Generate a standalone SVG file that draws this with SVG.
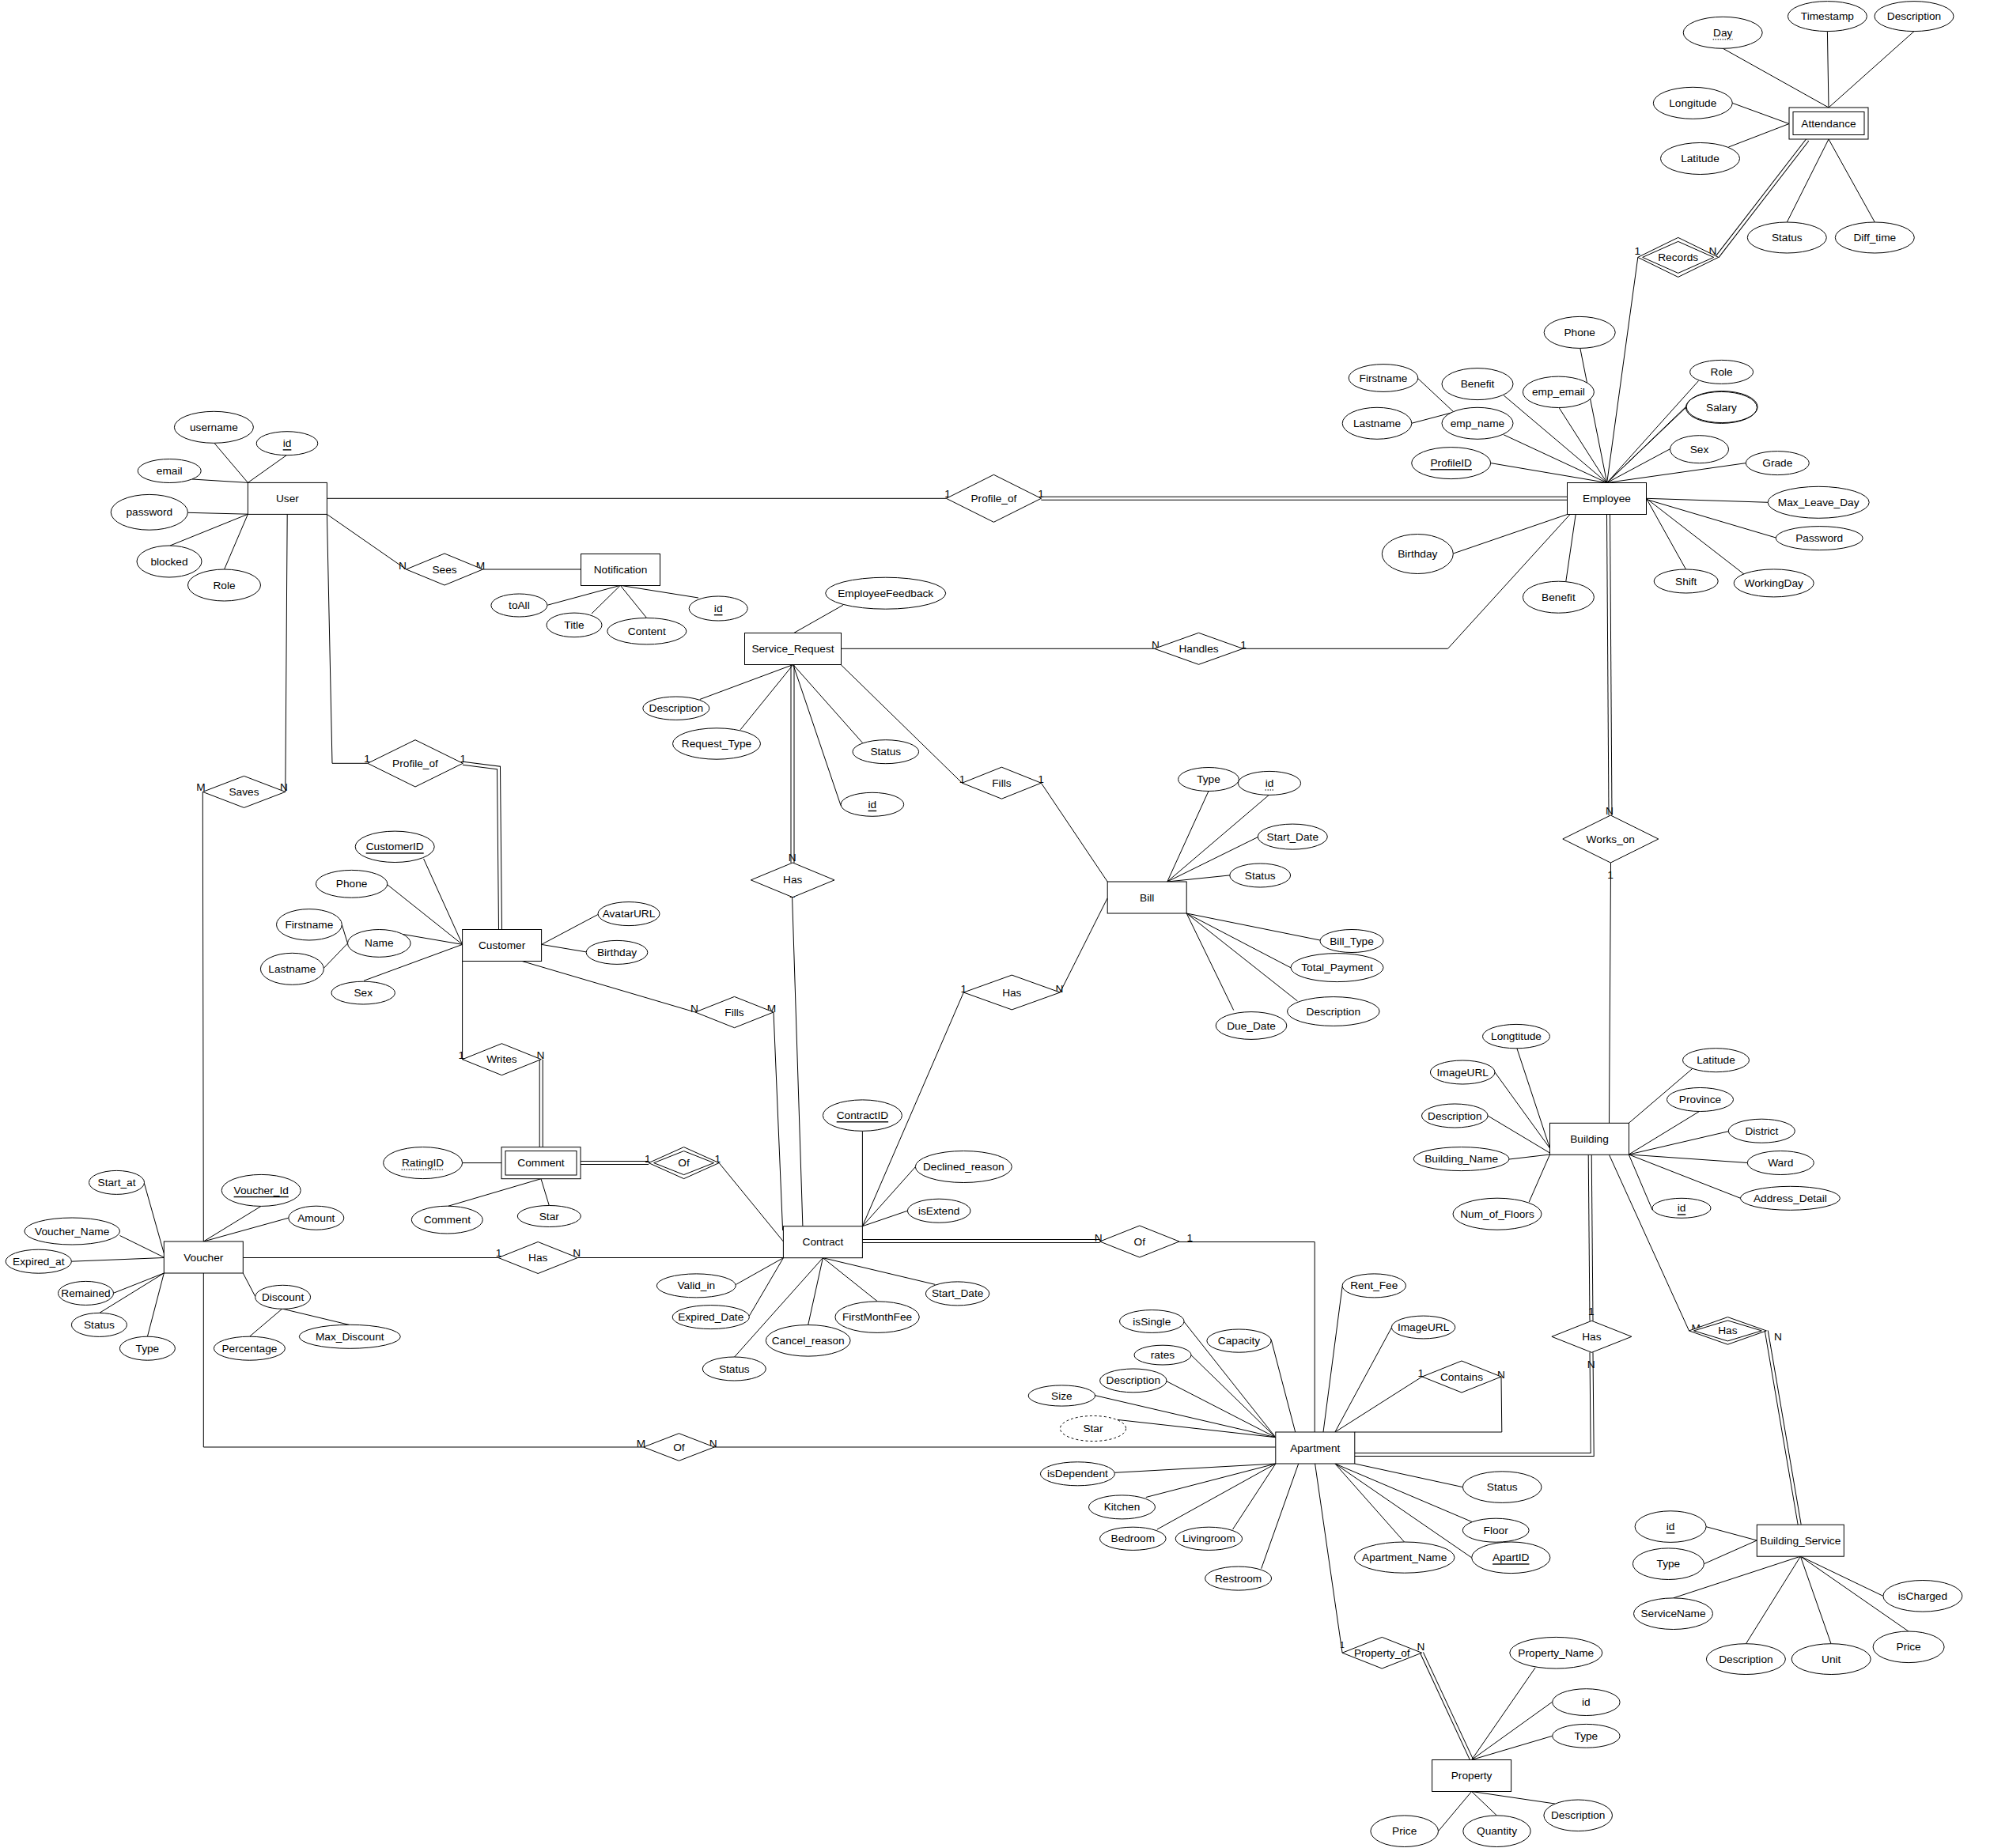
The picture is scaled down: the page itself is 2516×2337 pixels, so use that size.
<svg xmlns="http://www.w3.org/2000/svg" width="2516" height="2337" viewBox="0 0 2516 2337">
<style>
text{font-family:"Liberation Sans",Arial,sans-serif;font-size:13.7px;text-anchor:middle;dominant-baseline:central;fill:#000}
.e,.a,.r{fill:#fff;stroke:#000;stroke-width:1}
.d{stroke-dasharray:3 3}
.u{text-decoration:underline}
.du{stroke:#000;stroke-width:1;stroke-dasharray:1.5 1.5;fill:none}
.w1{stroke:#000;stroke-width:5;fill:none}
.w2{stroke:#fff;stroke-width:3;fill:none}
</style>
<rect width="2516" height="2337" fill="#fff"/>
<g id="connectors" fill="none" stroke="#000" stroke-width="1">
<g id="double-lines">
<polyline class="w1" points="1316.4,630.3 1981.5,630.3"/>
<polyline class="w1" points="2285.2,177 2171.4,324.4"/>
<polyline class="w1" points="2033.5,650.5 2036,1031"/>
<polyline class="w1" points="1002,840.5 1002,1091"/>
<polyline class="w1" points="585.2,965.3 630.5,971 632.5,1175.5"/>
<polyline class="w1" points="684.2,1339.7 684.2,1450.7"/>
<polyline class="w1" points="734,1470.6 820.1,1470.6"/>
<polyline class="w1" points="1090.4,1569.4 1390.6,1569.4"/>
<polyline class="w1" points="2010.2,1460.3 2012,1670.5"/>
<polyline class="w1" points="2012,1710.3 2013.2,1839.5 1712.8,1839.5"/>
<polyline class="w1" points="2233.3,1682.9 2275.2,1928.2"/>
<polyline class="w1" points="1797.6,2090.2 1860.6,2225.5"/>
<polyline class="w2" points="1316.4,630.3 1981.5,630.3"/>
<polyline class="w2" points="2285.2,177 2171.4,324.4"/>
<polyline class="w2" points="2033.5,650.5 2036,1031"/>
<polyline class="w2" points="1002,840.5 1002,1091"/>
<polyline class="w2" points="585.2,965.3 630.5,971 632.5,1175.5"/>
<polyline class="w2" points="684.2,1339.7 684.2,1450.7"/>
<polyline class="w2" points="734,1470.6 820.1,1470.6"/>
<polyline class="w2" points="1090.4,1569.4 1390.6,1569.4"/>
<polyline class="w2" points="2010.2,1460.3 2012,1670.5"/>
<polyline class="w2" points="2012,1710.3 2013.2,1839.5 1712.8,1839.5"/>
<polyline class="w2" points="2233.3,1682.9 2275.2,1928.2"/>
<polyline class="w2" points="1797.6,2090.2 1860.6,2225.5"/>
</g>
<g id="relationship-lines">
<line x1="413.4" y1="630.3" x2="1196.4" y2="630.3"/>
<line x1="413.4" y1="650.4" x2="513.5" y2="720"/>
<line x1="610.7" y1="720" x2="734.5" y2="720"/>
<line x1="2070.8" y1="325.4" x2="2031.7" y2="610.5"/>
<line x1="1063.1" y1="820.3" x2="1459.7" y2="820.3"/>
<polyline points="1571.4,820.3 1830.5,820.3 1985,650.5"/>
<line x1="2036.5" y1="1091" x2="2034.5" y2="1420.3"/>
<line x1="1001.6" y1="1134.7" x2="1014.9" y2="1550.7"/>
<line x1="1063.1" y1="840.5" x2="1216.4" y2="990.2"/>
<line x1="1316.4" y1="990.2" x2="1400.2" y2="1115"/>
<line x1="1340.3" y1="1255" x2="1400.2" y2="1135.7"/>
<line x1="1218.3" y1="1255" x2="1090.4" y2="1550.7"/>
<line x1="363.2" y1="650.4" x2="360.8" y2="1001.4"/>
<line x1="256.3" y1="1001.4" x2="257.3" y2="1570"/>
<polyline points="413.4,650.4 420,965.3 464.8,965.3"/>
<line x1="660.1" y1="1215.5" x2="879" y2="1280"/>
<line x1="978" y1="1280" x2="989.6" y2="1556"/>
<line x1="584.6" y1="1215.5" x2="584.6" y2="1339.7"/>
<line x1="909.1" y1="1470.6" x2="990.4" y2="1570"/>
<line x1="307.3" y1="1590.5" x2="630" y2="1590.5"/>
<line x1="730.4" y1="1590.5" x2="990.4" y2="1590.5"/>
<polyline points="1491,1570.5 1662.2,1570.5 1662.2,1811"/>
<polyline points="257.3,1610 257.3,1830 813.6,1830"/>
<line x1="903.2" y1="1830" x2="1612.8" y2="1830"/>
<line x1="1798" y1="1741" x2="1687.9" y2="1811"/>
<polyline points="1712.8,1811 1898.8,1811 1898,1741"/>
<line x1="2034.5" y1="1460.3" x2="2135.5" y2="1682.9"/>
<line x1="1662.6" y1="1851" x2="1697.1" y2="2090.2"/>
</g>
<g id="attribute-lines">
<line x1="270.8" y1="560.2" x2="313.4" y2="610.4"/>
<line x1="362.4" y1="575.6" x2="313.4" y2="610.4"/>
<line x1="243" y1="606" x2="313.4" y2="610.4"/>
<line x1="237.4" y1="648.3" x2="313.4" y2="650.2"/>
<line x1="215" y1="690" x2="313.4" y2="650.2"/>
<line x1="283.6" y1="720" x2="313.4" y2="650.2"/>
<line x1="692.3" y1="765.2" x2="784.3" y2="740.3"/>
<line x1="883" y1="756" x2="784.3" y2="740.3"/>
<line x1="748" y1="776" x2="784.3" y2="740.3"/>
<line x1="817.6" y1="781.5" x2="784.3" y2="740.3"/>
<line x1="1065.9" y1="765.2" x2="1003.8" y2="800.4"/>
<line x1="1997.8" y1="440.3" x2="2031.7" y2="610.5"/>
<line x1="1971" y1="515.4" x2="2031.7" y2="610.5"/>
<line x1="1901.2" y1="500" x2="2031.7" y2="610.5"/>
<line x1="1901.2" y1="549.8" x2="2031.7" y2="610.5"/>
<line x1="1884.8" y1="585.6" x2="2031.7" y2="610.5"/>
<line x1="2147.5" y1="481.6" x2="2031.7" y2="610.5"/>
<line x1="2131.5" y1="515.4" x2="2031.7" y2="610.5"/>
<line x1="2132.5" y1="513.4" x2="2031.7" y2="610.5"/>
<line x1="2111.6" y1="567.7" x2="2031.7" y2="610.5"/>
<line x1="2207.4" y1="585.6" x2="2031.7" y2="610.5"/>
<line x1="2235.3" y1="635.3" x2="2081.5" y2="630.3"/>
<line x1="2245.3" y1="680" x2="2081.5" y2="631.5"/>
<line x1="2131.5" y1="720" x2="2081.5" y2="630.3"/>
<line x1="2205.4" y1="726.4" x2="2081.5" y2="630.3"/>
<line x1="1979.8" y1="735.3" x2="1992.2" y2="650.5"/>
<line x1="1837.3" y1="700" x2="1981.5" y2="650.5"/>
<line x1="1792.7" y1="478.6" x2="1837.3" y2="520.4"/>
<line x1="1784.7" y1="535.3" x2="1837.3" y2="521.4"/>
<line x1="2178.2" y1="61.2" x2="2312" y2="136"/>
<line x1="2310.4" y1="39.6" x2="2312" y2="136"/>
<line x1="2420" y1="39.6" x2="2312" y2="136"/>
<line x1="2190.2" y1="130.3" x2="2262" y2="156.5"/>
<line x1="2185.4" y1="186" x2="2262" y2="156.5"/>
<line x1="2259.3" y1="281" x2="2312" y2="176"/>
<line x1="2370.3" y1="281" x2="2312" y2="176"/>
<line x1="884.7" y1="884.5" x2="1002.8" y2="840.5"/>
<line x1="936.1" y1="922.8" x2="1002.8" y2="840.5"/>
<line x1="1090.8" y1="939.7" x2="1002.8" y2="840.5"/>
<line x1="1063.1" y1="1018.8" x2="1002.8" y2="840.5"/>
<line x1="1528" y1="1000.4" x2="1475.8" y2="1115"/>
<line x1="1604.3" y1="1005.4" x2="1475.8" y2="1115"/>
<line x1="1590.3" y1="1058.6" x2="1475.8" y2="1115"/>
<line x1="1554.9" y1="1106.9" x2="1475.8" y2="1115"/>
<line x1="1669" y1="1189" x2="1500.2" y2="1155"/>
<line x1="1632" y1="1223.8" x2="1500.2" y2="1155"/>
<line x1="1640.5" y1="1266" x2="1500.2" y2="1155"/>
<line x1="1559.7" y1="1277.5" x2="1500.2" y2="1155"/>
<line x1="535.6" y1="1086" x2="584.6" y2="1194.4"/>
<line x1="489.8" y1="1118.8" x2="584.6" y2="1194.4"/>
<line x1="509.4" y1="1181.5" x2="584.6" y2="1194.4"/>
<line x1="460" y1="1240.2" x2="584.6" y2="1194.4"/>
<line x1="432.3" y1="1169.5" x2="439.5" y2="1193"/>
<line x1="409.4" y1="1224.3" x2="439.5" y2="1193"/>
<line x1="684.6" y1="1194.4" x2="755.8" y2="1156.6"/>
<line x1="684.6" y1="1194.4" x2="741.3" y2="1203.9"/>
<line x1="584.6" y1="1470.6" x2="634" y2="1470.6"/>
<line x1="566.5" y1="1525.3" x2="684" y2="1490.7"/>
<line x1="684" y1="1490.7" x2="694.3" y2="1524.5"/>
<line x1="1090.4" y1="1430.3" x2="1090.4" y2="1550.7"/>
<line x1="1157.5" y1="1475.5" x2="1090.4" y2="1550.7"/>
<line x1="1147.5" y1="1531.2" x2="1090.4" y2="1550.7"/>
<line x1="930.5" y1="1624.4" x2="990.4" y2="1590.7"/>
<line x1="947.4" y1="1664" x2="990.4" y2="1590.7"/>
<line x1="928.5" y1="1716.1" x2="1040.4" y2="1590.7"/>
<line x1="1021.7" y1="1675.5" x2="1040.4" y2="1590.7"/>
<line x1="1109.3" y1="1645.7" x2="1040.4" y2="1590.7"/>
<line x1="1182.4" y1="1624.4" x2="1040.4" y2="1590.7"/>
<line x1="182.4" y1="1496.4" x2="207.3" y2="1585"/>
<line x1="330.2" y1="1525.3" x2="257.3" y2="1570"/>
<line x1="364.8" y1="1540.2" x2="257.3" y2="1570"/>
<line x1="151.5" y1="1562.5" x2="207.3" y2="1590"/>
<line x1="90.4" y1="1595.2" x2="207.3" y2="1590.5"/>
<line x1="143.4" y1="1635.3" x2="207.3" y2="1610"/>
<line x1="125.4" y1="1660.6" x2="207.3" y2="1610"/>
<line x1="186.4" y1="1690.3" x2="207.3" y2="1610"/>
<line x1="307.3" y1="1610" x2="322.6" y2="1639.3"/>
<line x1="356.8" y1="1655.1" x2="315.4" y2="1690.3"/>
<line x1="356.8" y1="1655.1" x2="442" y2="1675.5"/>
<line x1="1917.9" y1="1325.8" x2="1959.5" y2="1452"/>
<line x1="1890" y1="1356" x2="1959.5" y2="1452"/>
<line x1="1881" y1="1411" x2="1959.5" y2="1458"/>
<line x1="1908" y1="1466" x2="1959.5" y2="1460"/>
<line x1="1933.1" y1="1520.3" x2="1959.5" y2="1460"/>
<line x1="2140.7" y1="1350.6" x2="2059.3" y2="1420.3"/>
<line x1="2148.7" y1="1405.4" x2="2059.3" y2="1460"/>
<line x1="2185.4" y1="1430.7" x2="2059.3" y2="1460"/>
<line x1="2209.4" y1="1470.5" x2="2059.3" y2="1460"/>
<line x1="2200.6" y1="1515.3" x2="2059.3" y2="1460"/>
<line x1="2089.2" y1="1530.2" x2="2059.3" y2="1460"/>
<line x1="1497" y1="1671.5" x2="1612.8" y2="1817.7"/>
<line x1="1505.9" y1="1713.6" x2="1612.8" y2="1817.7"/>
<line x1="1475" y1="1746.8" x2="1612.8" y2="1817.7"/>
<line x1="1384.5" y1="1764.7" x2="1612.8" y2="1817.7"/>
<line x1="1412.7" y1="1795.4" x2="1612.8" y2="1817.7"/>
<line x1="1607.1" y1="1693.8" x2="1637.7" y2="1811"/>
<line x1="1697.1" y1="1626.9" x2="1673" y2="1811"/>
<line x1="1759.4" y1="1678.9" x2="1687.9" y2="1811"/>
<line x1="1409.5" y1="1862.3" x2="1612.8" y2="1851"/>
<line x1="1448.8" y1="1893.5" x2="1612.8" y2="1851"/>
<line x1="1462.9" y1="1934.1" x2="1612.8" y2="1851"/>
<line x1="1558.5" y1="1934.1" x2="1612.8" y2="1851"/>
<line x1="1594.7" y1="1983.7" x2="1641.7" y2="1851"/>
<line x1="1775.5" y1="1950" x2="1687.9" y2="1851"/>
<line x1="1849.4" y1="1880.6" x2="1712.8" y2="1851"/>
<line x1="1862.6" y1="1925.2" x2="1687.9" y2="1851"/>
<line x1="1860.6" y1="1969.8" x2="1687.9" y2="1851"/>
<line x1="1941.1" y1="2109" x2="1860.6" y2="2225.5"/>
<line x1="1962.7" y1="2152.2" x2="1860.6" y2="2225.5"/>
<line x1="1962.7" y1="2195.3" x2="1860.6" y2="2225.5"/>
<line x1="1818.5" y1="2315.7" x2="1860.6" y2="2265.5"/>
<line x1="1892.5" y1="2296" x2="1860.6" y2="2265.5"/>
<line x1="1965.8" y1="2281" x2="1860.6" y2="2265.5"/>
<line x1="2157.1" y1="1930.7" x2="2221.3" y2="1948"/>
<line x1="2154.3" y1="1977.7" x2="2221.3" y2="1948"/>
<line x1="2115.5" y1="2020.9" x2="2276.4" y2="1968.2"/>
<line x1="2207.4" y1="2078.8" x2="2276.4" y2="1968.2"/>
<line x1="2315.1" y1="2078.8" x2="2276.4" y2="1968.2"/>
<line x1="2413" y1="2063" x2="2276.4" y2="1968.2"/>
<line x1="2381" y1="2018.4" x2="2276.4" y2="1968.2"/>
</g>
<g id="cardinalities" stroke="none">
<text x="1198" y="624">1</text><text x="1316" y="624">1</text>
<text x="509" y="715">N</text><text x="607.5" y="715">M</text>
<text x="2070.4" y="317">1</text><text x="2165.4" y="317">N</text>
<text x="1461" y="815">N</text><text x="1572" y="815">1</text>
<text x="2035" y="1025">N</text><text x="2036" y="1106">1</text>
<text x="254" y="995">M</text><text x="359" y="995">N</text>
<text x="464" y="959">1</text><text x="585.4" y="959">1</text>
<text x="1001.6" y="1084.5">N</text><text x="1001.6" y="1130.7">1</text>
<text x="1216.6" y="985">1</text><text x="1316" y="985">1</text>
<text x="878" y="1275">N</text><text x="975.5" y="1275">M</text>
<text x="1218.2" y="1250">1</text><text x="1339.5" y="1250">N</text>
<text x="583.4" y="1334.7">1</text><text x="683.4" y="1334.7">N</text>
<text x="818.8" y="1465.6">1</text><text x="907.2" y="1465.6">1</text>
<text x="630.5" y="1584.8">1</text><text x="729.2" y="1584.8">N</text>
<text x="1388.6" y="1565">N</text><text x="1504.3" y="1565">1</text>
<text x="810.4" y="1825">M</text><text x="901.6" y="1825">N</text>
<text x="1796.3" y="1736">1</text><text x="1898" y="1738">N</text>
<text x="2011.8" y="1658">1</text><text x="2011.8" y="1725">N</text>
<text x="2144.3" y="1679">M</text><text x="2248" y="1690.8">N</text>
<text x="1697" y="2080.3" style="font-size:10px">1</text><text x="1796.4" y="2082.8">N</text>
</g>
</g>
<g id="entities">
<g id="User"><rect class="e" x="313.4" y="610.4" width="100" height="40"/><text x="363.4" y="630.4">User</text></g>
<g id="Notification"><rect class="e" x="734.5" y="700.5" width="100" height="40"/><text x="784.5" y="720.5">Notification</text></g>
<g id="Employee"><rect class="e" x="1981.5" y="610.5" width="100" height="40"/><text x="2031.5" y="630.5">Employee</text></g>
<g id="Attendance"><rect class="e" x="2262" y="136" width="100" height="40"/><rect class="e" x="2267" y="141.5" width="90" height="29"/><text x="2312" y="156">Attendance</text></g>
<g id="Service_Request"><rect class="e" x="941.5" y="800.5" width="122" height="40"/><text x="1002.5" y="820.5">Service_Request</text></g>
<g id="Bill"><rect class="e" x="1400.2" y="1115" width="100" height="40"/><text x="1450.2" y="1135">Bill</text></g>
<g id="Customer"><rect class="e" x="584.6" y="1175.5" width="100" height="40"/><text x="634.6" y="1195.5">Customer</text></g>
<g id="Comment"><rect class="e" x="634" y="1450.7" width="100" height="40"/><rect class="e" x="639" y="1455.5" width="90" height="30.5"/><text x="684" y="1470.7">Comment</text></g>
<g id="Contract"><rect class="e" x="990.4" y="1550.7" width="100" height="40"/><text x="1040.4" y="1570.7">Contract</text></g>
<g id="Voucher"><rect class="e" x="207.3" y="1570" width="100" height="40"/><text x="257.3" y="1590">Voucher</text></g>
<g id="Building"><rect class="e" x="1959.5" y="1420.3" width="100" height="40"/><text x="2009.5" y="1440.3">Building</text></g>
<g id="Apartment"><rect class="e" x="1612.8" y="1811" width="100" height="40"/><text x="1662.8" y="1831">Apartment</text></g>
<g id="Building_Service"><rect class="e" x="2221.3" y="1928.2" width="110" height="40"/><text x="2276.3" y="1948.2">Building_Service</text></g>
<g id="Property"><rect class="e" x="1810.6" y="2225.5" width="100" height="40"/><text x="1860.6" y="2245.5">Property</text></g>
</g>
<g id="relationships">
<g id="r-Sees"><polygon class="r" points="513.5,720 562,700 610.5,720 562,740"/><text x="562" y="720">Sees</text></g>
<g id="r-Profile_of-Employee"><polygon class="r" points="1196.4,630.3 1256.4,600.3 1316.4,630.3 1256.4,660.3"/><text x="1256.4" y="630.3">Profile_of</text></g>
<g id="r-Records"><polygon class="r" points="2070.7,325.4 2121.7,300.4 2172.7,325.4 2121.7,350.4"/><polygon class="r" points="2076.7,325.4 2121.7,305.4 2166.7,325.4 2121.7,345.4"/><text x="2121.7" y="325.4">Records</text></g>
<g id="r-Handles"><polygon class="r" points="1459.5,820.3 1515.5,800.3 1571.5,820.3 1515.5,840.3"/><text x="1515.5" y="820.3">Handles</text></g>
<g id="r-Works_on"><polygon class="r" points="1975.8,1061 2036.3,1031 2096.8,1061 2036.3,1091"/><text x="2036.3" y="1061">Works_on</text></g>
<g id="r-Saves"><polygon class="r" points="256.3,1001.4 308.5,981.4 360.8,1001.4 308.5,1021.4"/><text x="308.5" y="1001.4">Saves</text></g>
<g id="r-Profile_of-Customer"><polygon class="r" points="464.8,965.3 525,935.7 585.2,965.3 525,995"/><text x="525" y="965.3">Profile_of</text></g>
<g id="r-Has-SR"><polygon class="r" points="949.4,1112.9 1002.2,1091 1055,1112.9 1002.2,1134.7"/><text x="1002.2" y="1112.9">Has</text></g>
<g id="r-Fills-Bill"><polygon class="r" points="1216.4,990.2 1266.4,970.2 1316.4,990.2 1266.4,1010.2"/><text x="1266.4" y="990.2">Fills</text></g>
<g id="r-Fills-Contract"><polygon class="r" points="879,1280 928.5,1260.4 978,1280 928.5,1299.7"/><text x="928.5" y="1280">Fills</text></g>
<g id="r-Has-Bill"><polygon class="r" points="1218.3,1255 1279.3,1233.1 1340.3,1255 1279.3,1276.9"/><text x="1279.3" y="1255">Has</text></g>
<g id="r-Writes"><polygon class="r" points="584.6,1339.7 634.4,1319.7 684.2,1339.7 634.4,1359.7"/><text x="634.4" y="1339.7">Writes</text></g>
<g id="r-Of-Comment"><polygon class="r" points="820.1,1470.6 864.6,1450.6 909.1,1470.6 864.6,1490.6"/><polygon class="r" points="826.6,1470.6 864.6,1455.6 902.6,1470.6 864.6,1485.6"/><text x="864.6" y="1470.6">Of</text></g>
<g id="r-Has-Voucher"><polygon class="r" points="630,1590.5 680.2,1570.5 730.4,1590.5 680.2,1610.5"/><text x="680.2" y="1590.5">Has</text></g>
<g id="r-Of-Apartment"><polygon class="r" points="1390.6,1570 1440.8,1550 1491,1570 1440.8,1590"/><text x="1440.8" y="1570">Of</text></g>
<g id="r-Of-Voucher"><polygon class="r" points="813.6,1830 858.4,1812.7 903.2,1830 858.4,1847.3"/><text x="858.4" y="1830">Of</text></g>
<g id="r-Contains"><polygon class="r" points="1798,1741 1848,1721 1898,1741 1848,1761"/><text x="1848" y="1741">Contains</text></g>
<g id="r-Has-Apartment"><polygon class="r" points="1961.9,1690.3 2012.4,1670.3 2062.9,1690.3 2012.4,1710.3"/><text x="2012.4" y="1690.3">Has</text></g>
<g id="r-Has-Service"><polygon class="r" points="2135.5,1682.9 2184.4,1665.6 2233.3,1682.9 2184.4,1700.2"/><polygon class="r" points="2141.5,1682.9 2184.4,1669.9 2227.3,1682.9 2184.4,1695.9"/><text x="2184.4" y="1682.9">Has</text></g>
<g id="r-Property_of"><polygon class="r" points="1697.1,2090.2 1747.3,2070.4 1797.6,2090.2 1747.3,2110"/><text x="1747.3" y="2090.2">Property_of</text></g>
</g>
<g id="attributes">
<g id="a-User-username"><ellipse class="a" cx="270.4" cy="540.3" rx="50" ry="20"/><text x="270.4" y="540.3">username</text></g>
<g id="a-User-id"><ellipse class="a" cx="363" cy="560.7" rx="38.8" ry="15"/><text class="u" x="363" y="560.7">id</text></g>
<g id="a-User-email"><ellipse class="a" cx="214.2" cy="595.5" rx="40" ry="15"/><text x="214.2" y="595.5">email</text></g>
<g id="a-User-password"><ellipse class="a" cx="188.8" cy="647.8" rx="48.6" ry="22.4"/><text x="188.8" y="647.8">password</text></g>
<g id="a-User-blocked"><ellipse class="a" cx="214" cy="710" rx="41" ry="20"/><text x="214" y="710">blocked</text></g>
<g id="a-User-Role"><ellipse class="a" cx="283.5" cy="740" rx="46" ry="20"/><text x="283.5" y="740">Role</text></g>
<g id="a-Notif-toAll"><ellipse class="a" cx="656.4" cy="765.5" rx="35.5" ry="14.5"/><text x="656.4" y="765.5">toAll</text></g>
<g id="a-Notif-Title"><ellipse class="a" cx="726" cy="790.4" rx="35" ry="15.3"/><text x="726" y="790.4">Title</text></g>
<g id="a-Notif-Content"><ellipse class="a" cx="817.8" cy="798.2" rx="50" ry="16.7"/><text x="817.8" y="798.2">Content</text></g>
<g id="a-Notif-id"><ellipse class="a" cx="908.2" cy="769.5" rx="37" ry="15.5"/><text class="u" x="908.2" y="769.5">id</text></g>
<g id="a-SR-EmployeeFeedback"><ellipse class="a" cx="1119.7" cy="750.2" rx="76" ry="20"/><text x="1119.7" y="750.2">EmployeeFeedback</text></g>
<g id="a-Emp-Firstname"><ellipse class="a" cx="1749" cy="478" rx="43.8" ry="17.4"/><text x="1749" y="478">Firstname</text></g>
<g id="a-Emp-Benefit1"><ellipse class="a" cx="1868" cy="485.6" rx="45" ry="20"/><text x="1868" y="485.6">Benefit</text></g>
<g id="a-Emp-Lastname"><ellipse class="a" cx="1741" cy="535.3" rx="43.8" ry="20"/><text x="1741" y="535.3">Lastname</text></g>
<g id="a-Emp-emp_name"><ellipse class="a" cx="1868" cy="535.3" rx="45" ry="20"/><text x="1868" y="535.3">emp_name</text></g>
<g id="a-Emp-ProfileID"><ellipse class="a" cx="1834.7" cy="585.6" rx="50" ry="20"/><text class="u" x="1834.7" y="585.6">ProfileID</text></g>
<g id="a-Emp-Phone"><ellipse class="a" cx="1997.2" cy="420.4" rx="45" ry="20"/><text x="1997.2" y="420.4">Phone</text></g>
<g id="a-Emp-emp_email"><ellipse class="a" cx="1970.4" cy="495.8" rx="45" ry="19.7"/><text x="1970.4" y="495.8">emp_email</text></g>
<g id="a-Emp-Role"><ellipse class="a" cx="2176.6" cy="470.4" rx="40" ry="15"/><text x="2176.6" y="470.4">Role</text></g>
<g id="a-Emp-Salary"><ellipse class="a" cx="2177.2" cy="514.6" rx="45" ry="20"/><ellipse class="a" cx="2176.4" cy="515.4" rx="45" ry="20" style="fill:none"/><text x="2176.4" y="515.4">Salary</text></g>
<g id="a-Emp-Sex"><ellipse class="a" cx="2148.5" cy="568.2" rx="37" ry="17.5"/><text x="2148.5" y="568.2">Sex</text></g>
<g id="a-Emp-Grade"><ellipse class="a" cx="2247.3" cy="585.6" rx="40" ry="15"/><text x="2247.3" y="585.6">Grade</text></g>
<g id="a-Emp-Max_Leave_Day"><ellipse class="a" cx="2299.2" cy="635.3" rx="64" ry="20"/><text x="2299.2" y="635.3">Max_Leave_Day</text></g>
<g id="a-Emp-Password"><ellipse class="a" cx="2300.2" cy="680.6" rx="55" ry="15"/><text x="2300.2" y="680.6">Password</text></g>
<g id="a-Emp-Shift"><ellipse class="a" cx="2131.7" cy="735" rx="40.5" ry="15"/><text x="2131.7" y="735">Shift</text></g>
<g id="a-Emp-WorkingDay"><ellipse class="a" cx="2242.7" cy="737.4" rx="50.5" ry="17.5"/><text x="2242.7" y="737.4">WorkingDay</text></g>
<g id="a-Emp-Benefit2"><ellipse class="a" cx="1970.4" cy="755.2" rx="45" ry="20"/><text x="1970.4" y="755.2">Benefit</text></g>
<g id="a-Emp-Birthday"><ellipse class="a" cx="1792.3" cy="700.5" rx="45" ry="25"/><text x="1792.3" y="700.5">Birthday</text></g>
<g id="a-Att-Day"><ellipse class="a" cx="2178.2" cy="41.3" rx="50" ry="20"/><text x="2178.2" y="41.3">Day</text><line class="du" x1="2165.6" y1="49.8" x2="2190.6" y2="49.8"/></g>
<g id="a-Att-Timestamp"><ellipse class="a" cx="2310.4" cy="20.6" rx="50" ry="19"/><text x="2310.4" y="20.6">Timestamp</text></g>
<g id="a-Att-Description"><ellipse class="a" cx="2420" cy="20.6" rx="50" ry="19"/><text x="2420" y="20.6">Description</text></g>
<g id="a-Att-Longitude"><ellipse class="a" cx="2140.3" cy="130.3" rx="50" ry="20"/><text x="2140.3" y="130.3">Longitude</text></g>
<g id="a-Att-Latitude"><ellipse class="a" cx="2149.5" cy="200.5" rx="50" ry="20"/><text x="2149.5" y="200.5">Latitude</text></g>
<g id="a-Att-Status"><ellipse class="a" cx="2259.3" cy="300.5" rx="50" ry="19.5"/><text x="2259.3" y="300.5">Status</text></g>
<g id="a-Att-Diff_time"><ellipse class="a" cx="2370.3" cy="300.5" rx="50" ry="19.5"/><text x="2370.3" y="300.5">Diff_time</text></g>
<g id="a-SR-Description"><ellipse class="a" cx="854.8" cy="895.7" rx="42" ry="14.7"/><text x="854.8" y="895.7">Description</text></g>
<g id="a-SR-Request_Type"><ellipse class="a" cx="906" cy="940.5" rx="55.5" ry="19.7"/><text x="906" y="940.5">Request_Type</text></g>
<g id="a-SR-Status"><ellipse class="a" cx="1119.8" cy="950.7" rx="41.8" ry="15"/><text x="1119.8" y="950.7">Status</text></g>
<g id="a-SR-id"><ellipse class="a" cx="1102.9" cy="1017.3" rx="39.8" ry="15"/><text class="u" x="1102.9" y="1017.3">id</text></g>
<g id="a-Bill-Type"><ellipse class="a" cx="1528" cy="985.5" rx="38.4" ry="15"/><text x="1528" y="985.5">Type</text></g>
<g id="a-Bill-id"><ellipse class="a" cx="1605" cy="990.4" rx="39.6" ry="15"/><text x="1605" y="990.4">id</text><line class="du" x1="1599.5" y1="999" x2="1610.5" y2="999"/></g>
<g id="a-Bill-Start_Date"><ellipse class="a" cx="1634.3" cy="1058.1" rx="44" ry="16"/><text x="1634.3" y="1058.1">Start_Date</text></g>
<g id="a-Bill-Status"><ellipse class="a" cx="1593.2" cy="1107" rx="38.4" ry="15"/><text x="1593.2" y="1107">Status</text></g>
<g id="a-Bill-Bill_Type"><ellipse class="a" cx="1709" cy="1190" rx="40" ry="14.5"/><text x="1709" y="1190">Bill_Type</text></g>
<g id="a-Bill-Total_Payment"><ellipse class="a" cx="1690.5" cy="1223.6" rx="58.5" ry="18"/><text x="1690.5" y="1223.6">Total_Payment</text></g>
<g id="a-Bill-Description"><ellipse class="a" cx="1685.8" cy="1279" rx="58.3" ry="18.4"/><text x="1685.8" y="1279">Description</text></g>
<g id="a-Bill-Due_Date"><ellipse class="a" cx="1582" cy="1297" rx="44.8" ry="17.4"/><text x="1582" y="1297">Due_Date</text></g>
<g id="a-Cust-CustomerID"><ellipse class="a" cx="499.2" cy="1070.8" rx="50" ry="19.7"/><text class="u" x="499.2" y="1070.8">CustomerID</text></g>
<g id="a-Cust-Phone"><ellipse class="a" cx="444.6" cy="1117.8" rx="45.2" ry="17.4"/><text x="444.6" y="1117.8">Phone</text></g>
<g id="a-Cust-Firstname"><ellipse class="a" cx="390.9" cy="1169.3" rx="41.4" ry="19.7"/><text x="390.9" y="1169.3">Firstname</text></g>
<g id="a-Cust-Name"><ellipse class="a" cx="479.3" cy="1192.9" rx="39.8" ry="17.4"/><text x="479.3" y="1192.9">Name</text></g>
<g id="a-Cust-Lastname"><ellipse class="a" cx="369.4" cy="1225.3" rx="40" ry="20"/><text x="369.4" y="1225.3">Lastname</text></g>
<g id="a-Cust-Sex"><ellipse class="a" cx="459.2" cy="1255.6" rx="40.2" ry="14.4"/><text x="459.2" y="1255.6">Sex</text></g>
<g id="a-Cust-AvatarURL"><ellipse class="a" cx="795" cy="1155.6" rx="39" ry="15"/><text x="795" y="1155.6">AvatarURL</text></g>
<g id="a-Cust-Birthday"><ellipse class="a" cx="780" cy="1204.4" rx="38.8" ry="15"/><text x="780" y="1204.4">Birthday</text></g>
<g id="a-Com-RatingID"><ellipse class="a" cx="534.6" cy="1470.6" rx="50" ry="20"/><text x="534.6" y="1470.6">RatingID</text><line class="du" x1="507.6" y1="1479" x2="561" y2="1479"/></g>
<g id="a-Com-Comment"><ellipse class="a" cx="565.3" cy="1542.6" rx="45" ry="17.4"/><text x="565.3" y="1542.6">Comment</text></g>
<g id="a-Com-Star"><ellipse class="a" cx="694.3" cy="1538" rx="40" ry="13.5"/><text x="694.3" y="1538">Star</text></g>
<g id="a-Con-ContractID"><ellipse class="a" cx="1090.4" cy="1410.6" rx="50" ry="19.7"/><text class="u" x="1090.4" y="1410.6">ContractID</text></g>
<g id="a-Con-Declined_reason"><ellipse class="a" cx="1218.3" cy="1475.5" rx="61" ry="20"/><text x="1218.3" y="1475.5">Declined_reason</text></g>
<g id="a-Con-isExtend"><ellipse class="a" cx="1187.2" cy="1531.2" rx="39.8" ry="15"/><text x="1187.2" y="1531.2">isExtend</text></g>
<g id="a-Con-Valid_in"><ellipse class="a" cx="880.3" cy="1625.9" rx="50" ry="15"/><text x="880.3" y="1625.9">Valid_in</text></g>
<g id="a-Con-Expired_Date"><ellipse class="a" cx="898.8" cy="1665.6" rx="48.6" ry="15"/><text x="898.8" y="1665.6">Expired_Date</text></g>
<g id="a-Con-Status"><ellipse class="a" cx="928.3" cy="1731" rx="40" ry="15"/><text x="928.3" y="1731">Status</text></g>
<g id="a-Con-Cancel_reason"><ellipse class="a" cx="1021.7" cy="1695.3" rx="53.4" ry="19.8"/><text x="1021.7" y="1695.3">Cancel_reason</text></g>
<g id="a-Con-FirstMonthFee"><ellipse class="a" cx="1109.1" cy="1665.6" rx="53.2" ry="19.8"/><text x="1109.1" y="1665.6">FirstMonthFee</text></g>
<g id="a-Con-Start_Date"><ellipse class="a" cx="1210.6" cy="1635.9" rx="40.2" ry="15"/><text x="1210.6" y="1635.9">Start_Date</text></g>
<g id="a-V-Start_at"><ellipse class="a" cx="147.5" cy="1495.4" rx="35" ry="15"/><text x="147.5" y="1495.4">Start_at</text></g>
<g id="a-V-Voucher_Id"><ellipse class="a" cx="330.2" cy="1505.4" rx="50" ry="20"/><text class="u" x="330.2" y="1505.4">Voucher_Id</text></g>
<g id="a-V-Amount"><ellipse class="a" cx="399.8" cy="1540.2" rx="35" ry="15"/><text x="399.8" y="1540.2">Amount</text></g>
<g id="a-V-Voucher_Name"><ellipse class="a" cx="91.2" cy="1557" rx="60.3" ry="17"/><text x="91.2" y="1557">Voucher_Name</text></g>
<g id="a-V-Expired_at"><ellipse class="a" cx="48.8" cy="1595.2" rx="41.6" ry="15"/><text x="48.8" y="1595.2">Expired_at</text></g>
<g id="a-V-Remained"><ellipse class="a" cx="108.5" cy="1635.4" rx="35" ry="15"/><text x="108.5" y="1635.4">Remained</text></g>
<g id="a-V-Status"><ellipse class="a" cx="125.4" cy="1675.4" rx="35" ry="15"/><text x="125.4" y="1675.4">Status</text></g>
<g id="a-V-Type"><ellipse class="a" cx="186.4" cy="1705.2" rx="35" ry="15"/><text x="186.4" y="1705.2">Type</text></g>
<g id="a-V-Discount"><ellipse class="a" cx="357.6" cy="1640.3" rx="35" ry="15"/><text x="357.6" y="1640.3">Discount</text></g>
<g id="a-V-Percentage"><ellipse class="a" cx="315.4" cy="1705.2" rx="45" ry="15"/><text x="315.4" y="1705.2">Percentage</text></g>
<g id="a-V-Max_Discount"><ellipse class="a" cx="442.3" cy="1690.3" rx="64" ry="15"/><text x="442.3" y="1690.3">Max_Discount</text></g>
<g id="a-B-Longtitude"><ellipse class="a" cx="1917" cy="1310.6" rx="42.5" ry="15.2"/><text x="1917" y="1310.6">Longtitude</text></g>
<g id="a-B-ImageURL"><ellipse class="a" cx="1849.2" cy="1356" rx="40.8" ry="15"/><text x="1849.2" y="1356">ImageURL</text></g>
<g id="a-B-Description"><ellipse class="a" cx="1839.3" cy="1411" rx="41.8" ry="15"/><text x="1839.3" y="1411">Description</text></g>
<g id="a-B-Building_Name"><ellipse class="a" cx="1847.6" cy="1465.6" rx="60.4" ry="15"/><text x="1847.6" y="1465.6">Building_Name</text></g>
<g id="a-B-Num_of_Floors"><ellipse class="a" cx="1893" cy="1535.2" rx="56" ry="20"/><text x="1893" y="1535.2">Num_of_Floors</text></g>
<g id="a-B-Latitude"><ellipse class="a" cx="2169.5" cy="1340.7" rx="42" ry="15"/><text x="2169.5" y="1340.7">Latitude</text></g>
<g id="a-B-Province"><ellipse class="a" cx="2149.5" cy="1390.5" rx="42" ry="15"/><text x="2149.5" y="1390.5">Province</text></g>
<g id="a-B-District"><ellipse class="a" cx="2227.3" cy="1430.2" rx="42" ry="15"/><text x="2227.3" y="1430.2">District</text></g>
<g id="a-B-Ward"><ellipse class="a" cx="2251.3" cy="1470.5" rx="42" ry="15"/><text x="2251.3" y="1470.5">Ward</text></g>
<g id="a-B-Address_Detail"><ellipse class="a" cx="2263.4" cy="1515.3" rx="63" ry="15"/><text x="2263.4" y="1515.3">Address_Detail</text></g>
<g id="a-B-id"><ellipse class="a" cx="2126" cy="1527.8" rx="37" ry="12.5"/><text class="u" x="2126" y="1527.8">id</text></g>
<g id="a-A-Rent_Fee"><ellipse class="a" cx="1737.3" cy="1625.9" rx="40.2" ry="15"/><text x="1737.3" y="1625.9">Rent_Fee</text></g>
<g id="a-A-ImageURL"><ellipse class="a" cx="1799.6" cy="1678.5" rx="40.2" ry="14.4"/><text x="1799.6" y="1678.5">ImageURL</text></g>
<g id="a-A-isSingle"><ellipse class="a" cx="1456.3" cy="1671" rx="40.8" ry="14.4"/><text x="1456.3" y="1671">isSingle</text></g>
<g id="a-A-Capacity"><ellipse class="a" cx="1566.5" cy="1695.6" rx="40.6" ry="14.6"/><text x="1566.5" y="1695.6">Capacity</text></g>
<g id="a-A-rates"><ellipse class="a" cx="1470" cy="1713.6" rx="36" ry="12.4"/><text x="1470" y="1713.6">rates</text></g>
<g id="a-A-Description"><ellipse class="a" cx="1432.8" cy="1745.9" rx="42.2" ry="14.9"/><text x="1432.8" y="1745.9">Description</text></g>
<g id="a-A-Size"><ellipse class="a" cx="1342.4" cy="1765" rx="42.2" ry="13.1"/><text x="1342.4" y="1765">Size</text></g>
<g id="a-A-Star"><ellipse class="a d" cx="1382" cy="1806.5" rx="41.6" ry="16"/><text x="1382" y="1806.5">Star</text></g>
<g id="a-A-isDependent"><ellipse class="a" cx="1362.4" cy="1863.8" rx="47" ry="15"/><text x="1362.4" y="1863.8">isDependent</text></g>
<g id="a-A-Kitchen"><ellipse class="a" cx="1418.5" cy="1905.9" rx="42" ry="15"/><text x="1418.5" y="1905.9">Kitchen</text></g>
<g id="a-A-Bedroom"><ellipse class="a" cx="1432.3" cy="1945.8" rx="41.8" ry="14.6"/><text x="1432.3" y="1945.8">Bedroom</text></g>
<g id="a-A-Livingroom"><ellipse class="a" cx="1528.4" cy="1945.8" rx="42.2" ry="14.6"/><text x="1528.4" y="1945.8">Livingroom</text></g>
<g id="a-A-Restroom"><ellipse class="a" cx="1565.6" cy="1996.1" rx="42" ry="15"/><text x="1565.6" y="1996.1">Restroom</text></g>
<g id="a-A-Apartment_Name"><ellipse class="a" cx="1775.7" cy="1969.6" rx="63.3" ry="19.6"/><text x="1775.7" y="1969.6">Apartment_Name</text></g>
<g id="a-A-Status"><ellipse class="a" cx="1899.2" cy="1880.6" rx="49.8" ry="19.8"/><text x="1899.2" y="1880.6">Status</text></g>
<g id="a-A-Floor"><ellipse class="a" cx="1891.2" cy="1935.2" rx="41.9" ry="15"/><text x="1891.2" y="1935.2">Floor</text></g>
<g id="a-A-ApartID"><ellipse class="a" cx="1910.3" cy="1969.8" rx="49.6" ry="19.8"/><text class="u" x="1910.3" y="1969.8">ApartID</text></g>
<g id="a-BS-id"><ellipse class="a" cx="2112.1" cy="1930.6" rx="45" ry="19.8"/><text class="u" x="2112.1" y="1930.6">id</text></g>
<g id="a-BS-Type"><ellipse class="a" cx="2109.4" cy="1977.7" rx="45" ry="19.8"/><text x="2109.4" y="1977.7">Type</text></g>
<g id="a-BS-ServiceName"><ellipse class="a" cx="2115.5" cy="2040.7" rx="50" ry="19.8"/><text x="2115.5" y="2040.7">ServiceName</text></g>
<g id="a-BS-Description"><ellipse class="a" cx="2207.4" cy="2098.1" rx="50" ry="19.4"/><text x="2207.4" y="2098.1">Description</text></g>
<g id="a-BS-Unit"><ellipse class="a" cx="2315.2" cy="2098.1" rx="50" ry="19.4"/><text x="2315.2" y="2098.1">Unit</text></g>
<g id="a-BS-Price"><ellipse class="a" cx="2413.1" cy="2082.8" rx="45" ry="19.8"/><text x="2413.1" y="2082.8">Price</text></g>
<g id="a-BS-isCharged"><ellipse class="a" cx="2430.9" cy="2018.3" rx="50" ry="19.8"/><text x="2430.9" y="2018.3">isCharged</text></g>
<g id="a-P-Property_Name"><ellipse class="a" cx="1967.3" cy="2090.2" rx="58.5" ry="19.8"/><text x="1967.3" y="2090.2">Property_Name</text></g>
<g id="a-P-id"><ellipse class="a" cx="2005.4" cy="2152.6" rx="42.7" ry="16.9"/><text x="2005.4" y="2152.6">id</text></g>
<g id="a-P-Type"><ellipse class="a" cx="2005.4" cy="2195.3" rx="42.7" ry="14.9"/><text x="2005.4" y="2195.3">Type</text></g>
<g id="a-P-Price"><ellipse class="a" cx="1775.7" cy="2315.7" rx="42.8" ry="19.8"/><text x="1775.7" y="2315.7">Price</text></g>
<g id="a-P-Quantity"><ellipse class="a" cx="1892.5" cy="2315.7" rx="42.7" ry="19.8"/><text x="1892.5" y="2315.7">Quantity</text></g>
<g id="a-P-Description"><ellipse class="a" cx="1995.2" cy="2295.8" rx="43.3" ry="19.8"/><text x="1995.2" y="2295.8">Description</text></g>
</g>
</svg>
